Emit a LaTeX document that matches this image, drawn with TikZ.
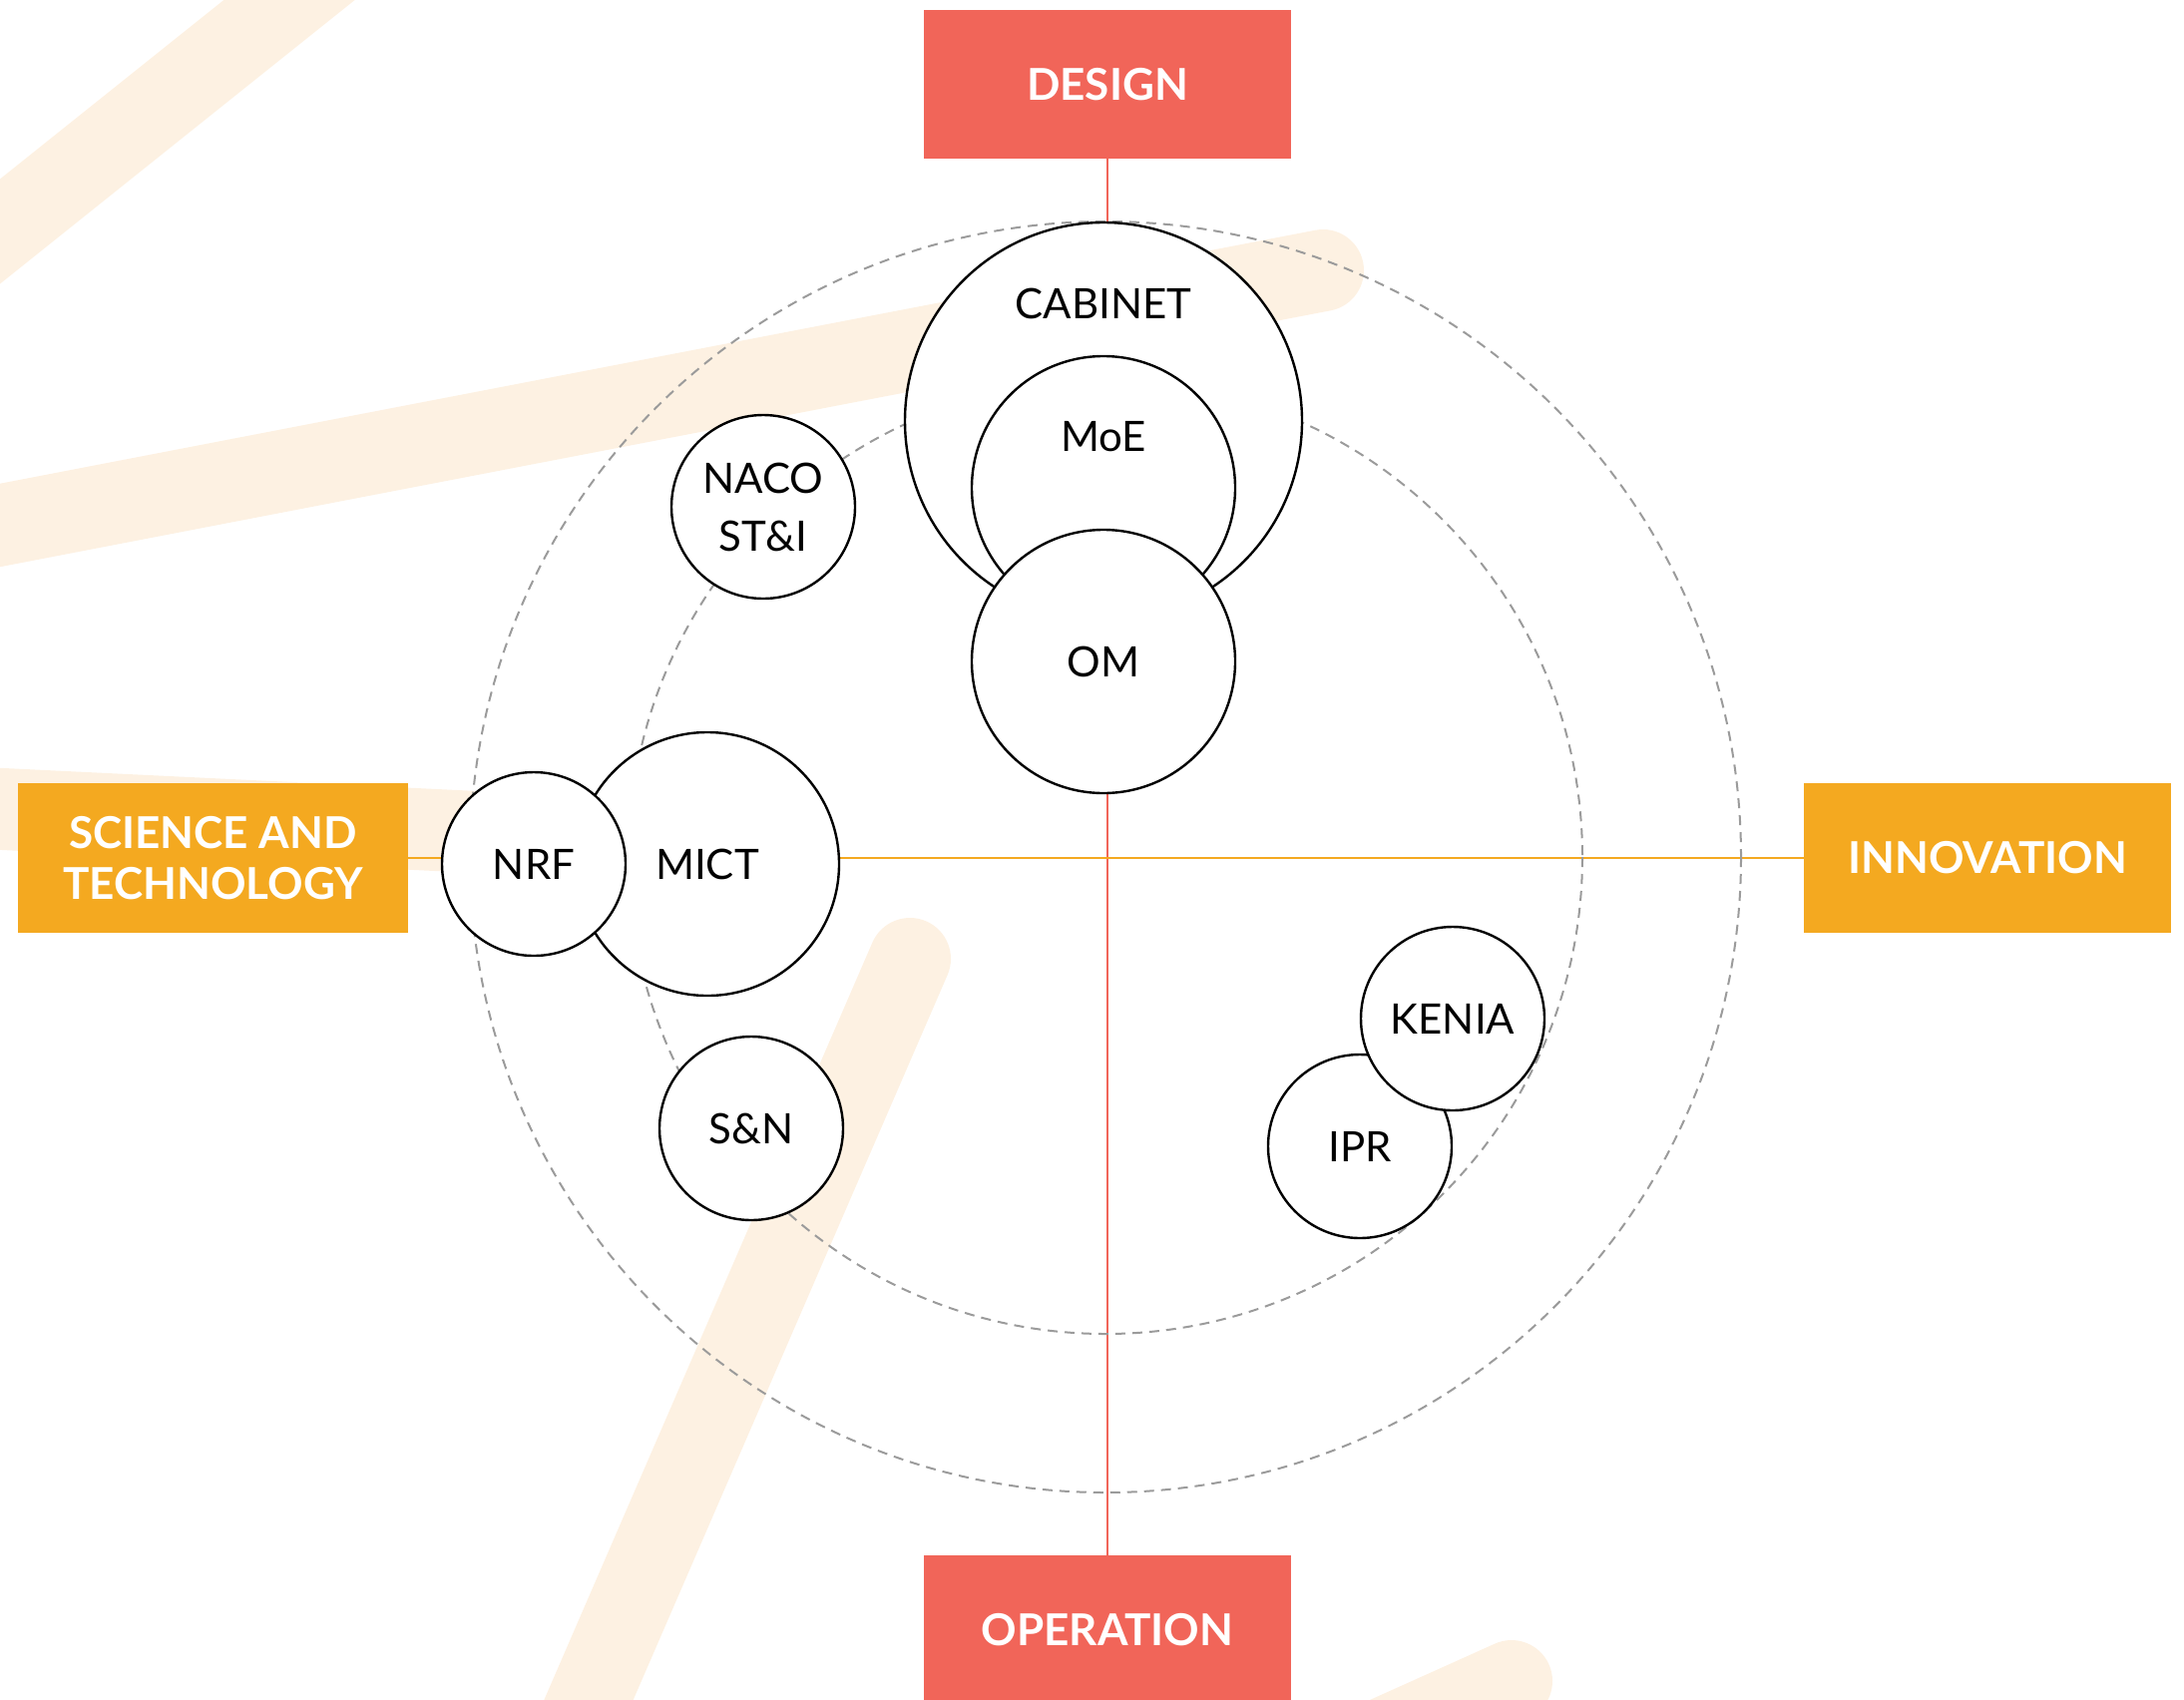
\documentclass[tikz,border=0pt]{standalone}
\usepackage{fontspec}
\setmainfont{Lato}
\usepackage{tikz}
\definecolor{designred}{RGB}{241,101,89}
\definecolor{scienceorange}{RGB}{244,169,32}
\definecolor{streakcol}{RGB}{253,241,226}
\definecolor{ringgray}{RGB}{155,155,155}
\tikzset{streak/.style={line width=41pt,color=streakcol,line cap=round}}
\tikzset{ring/.style={color=ringgray,line width=1pt,dash pattern=on 5pt off 3.5pt}}
\tikzset{actor/.style={circle,draw,fill=white,line width=1.2pt,inner sep=0pt,
    align=center,font=\fontsize{21}{29}\selectfont}}
\tikzset{axisbox/.style={rectangle,inner sep=0pt,minimum width=184pt,minimum height=74.5pt,
    align=center,text=white,font=\bfseries\fontsize{22}{25.5}\selectfont}}

\begin{document}
\begin{tikzpicture}[x=0.5pt,y=-0.5pt]
        \useasboundingbox (0,0) rectangle (2189,1703);
        % Background streaks
        \draw[streak] (-100,312) -- (400,-88);
        \draw[streak] (-200,565) -- (1326,271);
        \draw[streak] (-100,806) -- (540,837);
        \draw[streak] (912,961) -- (505,1900);
        \draw[streak] (1515,1685) -- (1315,1775);
        % The four axis boxes
        \node[axisbox,fill=designred] (design) at (1110,84.5) {DESIGN};
        \node[axisbox,fill=designred] (operation) at (1110,1633.5) {OPERATION};
        \node[axisbox,fill=scienceorange,minimum width=195.5pt,minimum height=75pt]
        (science) at (213.5,860) {SCIENCE AND\\TECHNOLOGY};
        \node[axisbox,fill=scienceorange,minimum height=75pt]
        (innovation) at (1992,860) {INNOVATION};
        % Axis lines
        \draw[designred,line width=1pt] (design.south) -- (operation.north);
        \draw[scienceorange,line width=1pt] (science.east) -- (innovation.west);
        % Dashed rings
        \coordinate (C) at (1108,859);
        \draw[ring] (C) circle [radius=637];
        \draw[ring] (C) circle [radius=478];
        % Actors
        \node[actor,minimum size=199pt] (cabinet) at (1106,422) {};
        \node[font=\fontsize{21}{29}\selectfont] (cabinetlbl) at (1106,304) {CABINET};
        \node[actor,minimum size=132pt] (moe) at (1106,489) {};
        \node[font=\fontsize{21}{29}\selectfont] (moelbl) at (1106,438) {MoE};
        \node[actor,minimum size=132pt] (om) at (1106,663) {OM};
        \node[actor,minimum size=92pt] (naco) at (765,508) {NACO\\ST\&I};
        \node[actor,minimum size=132pt] (mict) at (709,866) {MICT};
        \node[actor,minimum size=92pt] (nrf) at (535,866) {NRF};
        \node[actor,minimum size=92pt] (sn) at (753,1131) {S\&N};
        \node[actor,minimum size=92pt] (ipr) at (1363,1149) {IPR};
        \node[actor,minimum size=92pt] (kenia) at (1456,1021) {KENIA};
\end{tikzpicture}
\end{document}
